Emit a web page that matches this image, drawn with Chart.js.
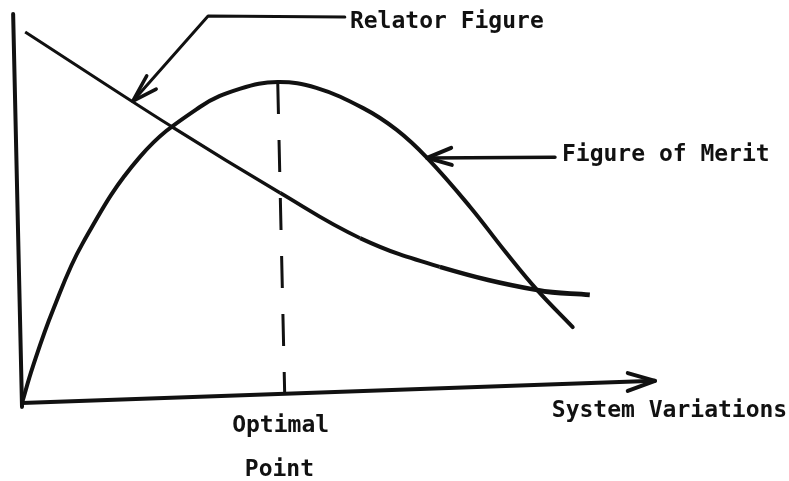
<!DOCTYPE html>
<html>
<head>
<meta charset="utf-8">
<script src="https://cdn.jsdelivr.net/npm/chart.js"></script>
<style>
  html, body { margin: 0; padding: 0; background: #fff; }
  #wrap { position: relative; width: 789px; height: 481px; }
</style>
</head>
<body>
<div id="wrap"><canvas id="chart"></canvas></div>
<script>
// chart units: system variation 0..100 along the axis, figure value 0..100 up the axis

// relator figure curve
const relatorX = [0.5, 23.7, 40.8, 53.4, 66.0, 81.4, 89.7];
const relatorY = [95.4, 71.0, 54.0, 42.4, 35.0, 29.0, 27.8];

// figure of merit curve
const meritX = [0, 1.7, 4.9, 9.6, 18.6, 28.1, 34.5, 40.4, 46.5, 53.9, 59.2, 64.0, 70.8, 76.3, 81.4, 87.0];
const meritY = [0, 9.3, 23.9, 41.1, 63.2, 76.1, 80.8, 82.5, 81.0, 75.8, 70.2, 63.0, 50.4, 39.0, 29.0, 19.5];

// optimal point marker (top to bottom)
const optimalX = [40.4, 41.5];
const optimalY = [82.5, 2.3];

// axes as drawn (the scan is a little skewed)
const yAxisX = [-1.4, 0];
const yAxisY = [100, -1];
const xAxisX = [0, 100];
const xAxisY = [0, 5.7];
const xArrowX = [95.7, 100, 95.7];
const xArrowY = [7.7, 5.7, 3.1];

// leader lines with arrow heads
const relatorLeadX = [51.0, 29.4, 17.5];
const relatorLeadY = [99.2, 99.5, 77.6];
const relatorHeadX = [19.7, 17.5, 21.2];
const relatorHeadY = [84.1, 77.6, 80.7];
const meritLeadX = [84.2, 64.0];
const meritLeadY = [63.2, 63.0];
const meritHeadX = [67.8, 64.0, 67.9];
const meritHeadY = [65.6, 63.0, 61.2];

// text labels
const labelText = ['Relator Figure', 'Figure of Merit', 'Optimal', 'Point', 'System Variations'];
const labelX = [51.8, 85.3, 33.2, 35.2, 83.7];
const labelY = [96.4, 62.2, -7.5, -18.8, -3.6];

const ink = '#111111';

function pts(xs, ys) {
  return xs.map(function (x, i) { return { x: x, y: ys[i] }; });
}

function lineSet(xs, ys, width, extra) {
  return Object.assign({
    data: pts(xs, ys),
    showLine: true,
    borderColor: ink,
    borderWidth: width,
    pointRadius: 0,
    tension: 0,
    fill: false,
    clip: false,
    borderCapStyle: 'round',
    borderJoinStyle: 'round'
  }, extra || {});
}

// draws the text labels at their chart positions
const labelPlugin = {
  id: 'labels',
  afterDatasetsDraw: function (chart) {
    const ctx = chart.ctx;
    const sx = chart.scales.x;
    const sy = chart.scales.y;
    ctx.save();
    ctx.fillStyle = ink;
    ctx.font = 'bold 23px "DejaVu Sans Mono", "Liberation Mono", monospace';
    ctx.textAlign = 'left';
    ctx.textBaseline = 'alphabetic';
    labelText.forEach(function (t, i) {
      ctx.fillText(t, sx.getPixelForValue(labelX[i]), sy.getPixelForValue(labelY[i]));
    });
    ctx.restore();
  }
};

new Chart(document.getElementById('chart'), {
  type: 'scatter',
  data: {
    datasets: [
      lineSet(yAxisX, yAxisY, 4),
      lineSet(xAxisX, xAxisY, 4),
      lineSet(xArrowX, xArrowY, 4),
      lineSet(optimalX, optimalY, 3, { borderDash: [32, 26], borderCapStyle: 'butt' }),
      lineSet(relatorX, relatorY, 3.5, {
        tension: 0.4,
        borderCapStyle: 'butt',
        segment: {
          // the pen line gets heavier toward the right end
          borderWidth: function (c) { return 3 + 0.35 * c.p0DataIndex; }
        }
      }),
      lineSet(meritX, meritY, 4, { tension: 0.4 }),
      lineSet(relatorLeadX, relatorLeadY, 3),
      lineSet(relatorHeadX, relatorHeadY, 3.5),
      lineSet(meritLeadX, meritLeadY, 3.5),
      lineSet(meritHeadX, meritHeadY, 4)
    ]
  },
  options: {
    responsive: true,
    maintainAspectRatio: false,
    animation: false,
    layout: { padding: 0 },
    plugins: {
      legend: { display: false },
      tooltip: { enabled: false }
    },
    scales: {
      x: { type: 'linear', display: false, min: -3.476, max: 121.17 },
      y: { type: 'linear', display: false, min: -20.05, max: 103.6 }
    }
  },
  plugins: [labelPlugin]
});
</script>
</body>
</html>
